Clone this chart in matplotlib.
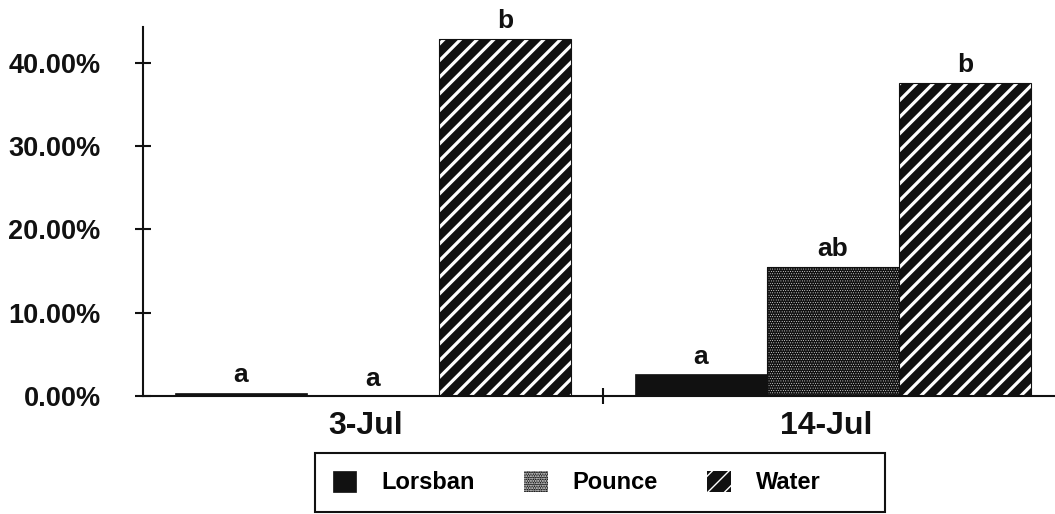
import matplotlib
matplotlib.use("Agg")
import matplotlib.pyplot as plt
from matplotlib.transforms import ScaledTranslation
from matplotlib.patches import Rectangle
import numpy as np

plt.rcParams['font.family'] = ['Liberation Sans', 'DejaVu Sans']
plt.rcParams['font.weight'] = 'bold'
plt.rcParams['hatch.linewidth'] = 1.0

# Data (percent)
dates = ["3-Jul", "14-Jul"]
treatments = ["Lorsban", "Pounce", "Water"]
lorsban = [0.4, 2.6]
pounce = [0.0, 15.5]
water = [42.9, 37.6]
letters_lorsban = ["a", "a"]
letters_pounce = ["a", "ab"]
letters_water = ["b", "b"]
yticks = [0, 10, 20, 30, 40]

series = [lorsban, pounce, water]
letters = [letters_lorsban, letters_pounce, letters_water]
hatches = [None, '.......', '//']
hatch_lw = [1.0, 0.3, 2.3]

fig = plt.figure(figsize=(10.55, 5.14), dpi=100)
ax = fig.add_axes([143/1055, 1 - 396/514, 1 - 143/1055, (396 - 27)/514])

x = np.arange(len(dates))
w = 0.287
handles = []
for j, (vals, lab, h) in enumerate(zip(series, treatments, hatches)):
    pos = x + (j - 1) * w
    if h is None:
        bars = ax.bar(pos, vals, w, color='#111111', edgecolor='#111111', linewidth=0.5, label=lab)
    else:
        with plt.rc_context({'hatch.linewidth': hatch_lw[j]}):
            bars = ax.bar(pos, vals, w, facecolor='#111111', edgecolor='white', hatch=h,
                          linewidth=0, label=lab)
        for b in bars:
            if hasattr(b, 'set_hatch_linewidth'):
                b.set_hatch_linewidth(hatch_lw[j])
        ax.bar(pos, vals, w, facecolor='none', edgecolor='#111111', linewidth=0.8)
    handles.append(bars)
    for p, v, t in zip(pos, vals, letters[j]):
        ax.annotate(t, (p, v), xytext=(0, 7.5), textcoords='offset points',
                    ha='center', va='baseline', fontsize=19, fontweight='bold', color='#111111')

ax.set_xlim(-0.5, 1.483)
ax.set_ylim(0, 44.3)
ax.set_yticks(yticks)
ax.set_yticklabels([f"{v:.2f}%" for v in yticks])
ax.set_xticks(x)
ax.set_xticklabels(dates)
ax.set_xticks([0.5], minor=True)

for s in ['top', 'right']:
    ax.spines[s].set_visible(False)
for s in ['left', 'bottom']:
    ax.spines[s].set_linewidth(1.5)
    ax.spines[s].set_color('#111111')

ax.tick_params(axis='y', direction='inout', length=11, width=1.5, pad=25,
               labelsize=19.5, colors='#111111')
ax.tick_params(axis='x', which='major', length=0, pad=11, labelsize=23, colors='#111111')
ax.tick_params(axis='x', which='minor', direction='inout', length=11, width=1.5, color='#111111')
for lbl in ax.get_yticklabels() + ax.get_xticklabels():
    lbl.set_fontweight('bold')
shift = ScaledTranslation(-5/72, 0, fig.dpi_scale_trans)
for lbl in ax.get_xticklabels():
    lbl.set_transform(lbl.get_transform() + shift)

leg = ax.legend(handles=handles, labels=treatments, ncol=3, loc='upper left',
                bbox_to_anchor=(315/1055, 1 - 453/514), bbox_transform=fig.transFigure,
                fontsize=17, frameon=False,
                handlelength=1.0, handleheight=1.0, handletextpad=1.05,
                columnspacing=2.1, borderpad=0.75, borderaxespad=0)
for t in leg.get_texts():
    t.set_fontweight('bold')
fig.patches.append(Rectangle((315/1055, 2/514), 570/1055, 59/514, transform=fig.transFigure,
                             fill=False, edgecolor='#111111', linewidth=1.5))

fig.savefig("out.png", dpi=100)
